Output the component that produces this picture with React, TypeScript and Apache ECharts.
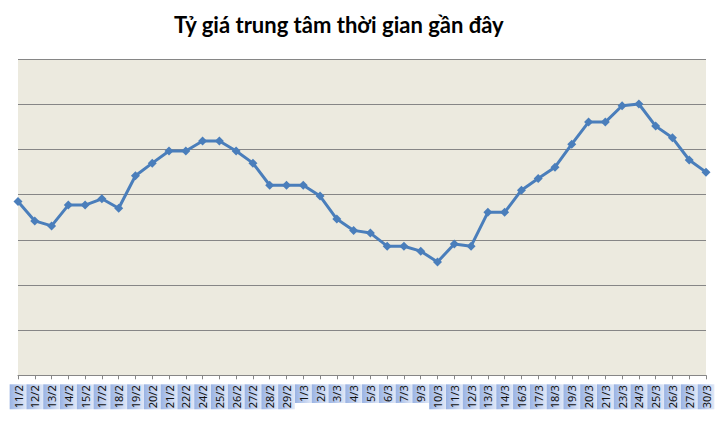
import React, { useEffect, useRef } from "react";
import * as echarts from "echarts";

const categories = [
  "11/2", "12/2", "13/2", "14/2", "15/2", "17/2", "18/2", "19/2", "20/2", "21/2",
  "22/2", "24/2", "25/2", "26/2", "27/2", "28/2", "29/2", "1/3", "2/3", "3/3",
  "4/3", "5/3", "6/3", "7/3", "9/3", "10/3", "11/3", "12/3", "13/3", "14/3",
  "16/3", "17/3", "18/3", "19/3", "20/3", "21/3", "23/3", "24/3", "25/3", "26/3",
  "27/3", "30/3",
];

const rates = [
  21858.5, 21854.2, 21853.1, 21857.7, 21857.7, 21859.1, 21857.0, 21864.2, 21867.0, 21869.7,
  21869.7, 21871.9, 21871.9, 21869.7, 21867.0, 21862.1, 21862.1, 21862.1, 21859.7, 21854.6,
  21852.1, 21851.5, 21848.6, 21848.6, 21847.5, 21845.1, 21849.1, 21848.6, 21856.1, 21856.1,
  21861.0, 21863.6, 21866.1, 21871.2, 21876.1, 21876.1, 21879.7, 21880.1, 21875.2, 21872.6,
  21867.7, 21865.0,
];

const yMin = 21820;
const yMax = 21890;
const yStep = 10;

const title = "Tỷ giá trung tâm thời gian gần đây";

export default function App() {
  const ref = useRef<HTMLDivElement>(null);
  useEffect(() => {
    document.body.style.margin = "0";
    const chart = echarts.init(ref.current!, null, { renderer: "svg" });
    const labelBg = new echarts.graphic.LinearGradient(0, 0, 0, 1, [
      { offset: 0, color: "#9ab3e3" },
      { offset: 0.5, color: "#bccdee" },
      { offset: 1, color: "#e0e8f7" },
    ]);
    chart.setOption({
      animation: false,
      backgroundColor: "#ffffff",
      title: {
        text: title,
        left: 169,
        top: 8,
        textStyle: {
          fontFamily: "Lato",
          fontWeight: "bold",
          fontSize: 22,
          color: "#000000",
        },
      },
      grid: {
        left: 18,
        right: 17,
        top: 59.3,
        bottom: 54.7,
        show: true,
        backgroundColor: "#ECEADF",
        borderWidth: 0,
      },
      xAxis: {
        type: "category",
        data: categories,
        boundaryGap: false,
        axisLine: { show: true, lineStyle: { color: "#868686", width: 1 } },
        axisTick: {
          show: true,
          alignWithLabel: true,
          interval: 0,
          length: 4,
          lineStyle: { color: "#868686" },
        },
        axisLabel: {
          interval: 0,
          rotate: 90,
          margin: 9,
          fontFamily: "Noto Sans",
          fontSize: 11,
          color: "#111111",
          lineHeight: 12.7,
          padding: [2, 1, 2, 1],
          backgroundColor: labelBg,
        },
        splitLine: { show: false },
      },
      yAxis: {
        type: "value",
        min: yMin,
        max: yMax,
        interval: yStep,
        axisLine: { show: false },
        axisTick: { show: false },
        axisLabel: { show: false },
        splitLine: { show: true, lineStyle: { color: "#868686", width: 1 } },
      },
      series: [
        {
          type: "line",
          data: rates,
          symbol: "diamond",
          symbolSize: 9,
          lineStyle: { color: "#4a7ebb", width: 3 },
          itemStyle: { color: "#4a7ebb" },
        },
      ],
    });
    return () => chart.dispose();
  }, []);
  return <div ref={ref} style={{ width: 723, height: 430 }} />;
}
